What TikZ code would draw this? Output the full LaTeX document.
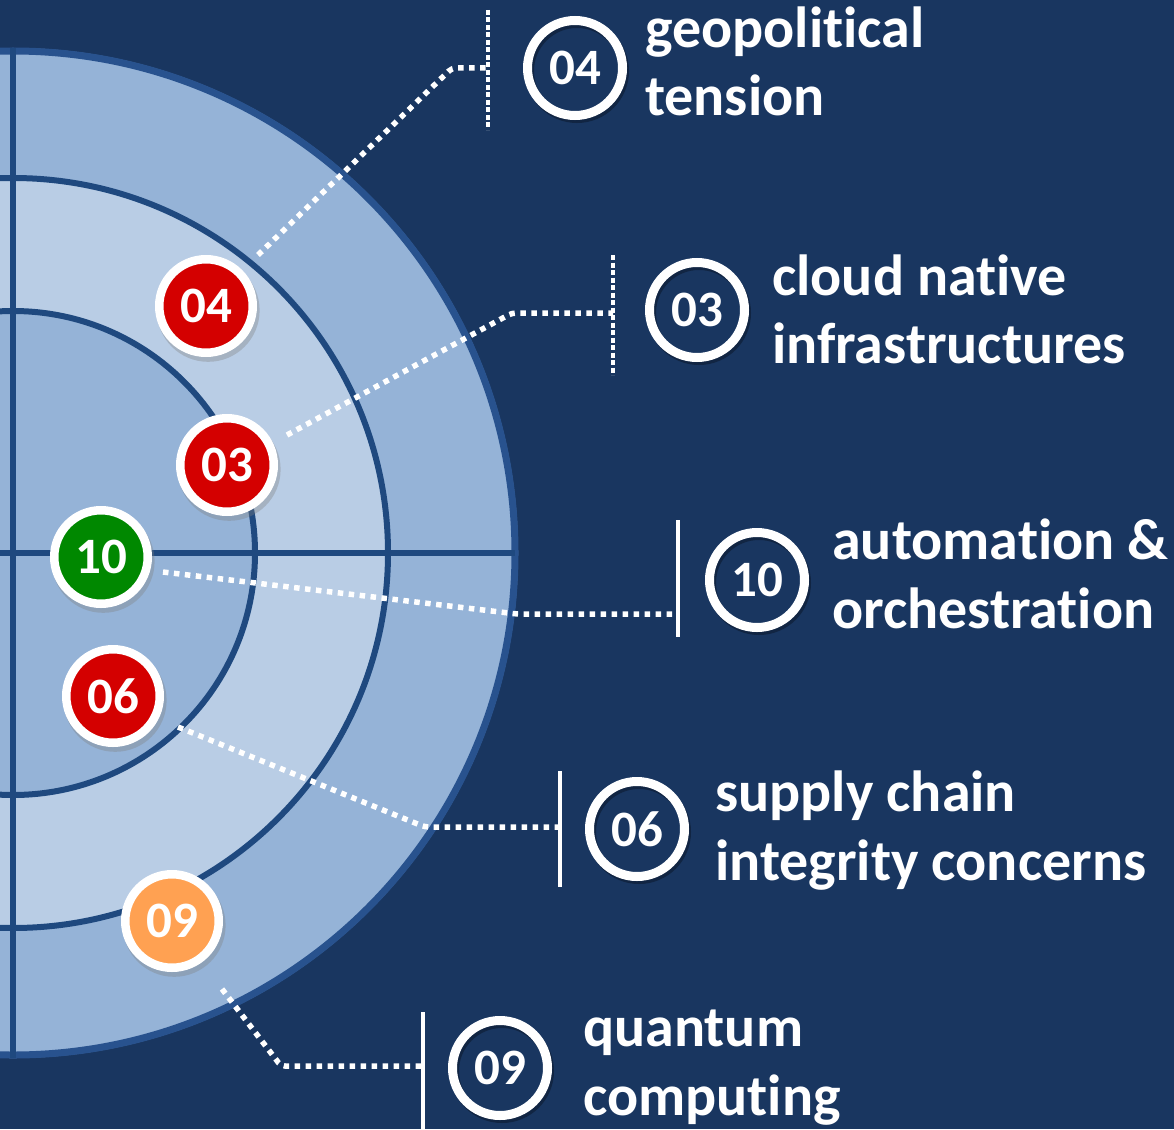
\documentclass[tikz,border=0pt]{standalone}
\usepackage{fontspec}
\setmainfont{Carlito}[Ligatures=CommonOff,RawFeature={-liga;-clig;-dlig}]
\usetikzlibrary{shadows}
\definecolor{bg}{RGB}{25,54,96}
\definecolor{ringout}{RGB}{149,179,215}
\definecolor{ringmid}{RGB}{185,205,229}
\definecolor{gridc}{RGB}{31,73,127}
\definecolor{rim}{RGB}{40,82,142}
\definecolor{mred}{RGB}{212,0,0}
\definecolor{mgreen}{RGB}{0,136,0}
\definecolor{morange}{RGB}{255,161,82}
\begin{document}
\begin{tikzpicture}[x=1pt,y=-1pt,
  gridline/.style={draw=gridc,line width=6pt},
  conn/.style={draw=white,line width=5.5pt,dash pattern=on 5.5pt off 5.5pt,rounded corners=4pt},
  dbar/.style={draw=white,line width=4.5pt,dash pattern=on 5pt off 2.5pt},
  sbar/.style={draw=white,line width=4.5pt},
  marker/.style={circle,draw=white,line width=8.5pt,minimum size=93.5pt,inner sep=0pt,text=white,
    font=\fontsize{51}{60}\selectfont\bfseries,
    drop shadow={shadow xshift=2pt,shadow yshift=-4pt,shadow scale=1.1,opacity=0.35}},
  lring/.style={circle,draw=white,line width=9pt,minimum size=95pt,inner sep=0pt,text=white,
    font=\fontsize{51}{60}\selectfont\bfseries},
  ringshadow/.style={draw=black,opacity=0.3,line width=9pt},
  lbl/.style={anchor=base west,inner sep=0pt,text=white,font=\fontsize{58}{68}\selectfont\bfseries}]

\fill[bg] (0,0) rectangle (1174,1129);
\useasboundingbox (0,0) rectangle (1174,1129);

\begin{scope}
\clip (0,0) rectangle (1174,1129);
\coordinate (O) at (13,553);
\fill[ringout] (O) circle[radius=505pt];
\draw[rim,line width=7pt] (O) circle[radius=502pt];
\filldraw[fill=ringmid,gridline] (O) circle[radius=375pt];
\filldraw[fill=ringout,gridline] (O) circle[radius=242pt];
\draw[gridline] (13,48) -- (13,1058);
\draw[gridline] (-500,553) -- (515,553);
\end{scope}

% connector coordinates
\coordinate (s04) at (258,255); \coordinate (k04) at (452,68);   \coordinate (j04) at (488,68);
\coordinate (s03) at (287,435); \coordinate (k03) at (512,313);  \coordinate (j03) at (613,313);
\coordinate (s10) at (163,572); \coordinate (k10) at (517,614);  \coordinate (j10) at (678,614);
\coordinate (s06) at (178,727); \coordinate (k06) at (425,827);  \coordinate (j06) at (560,827);
\coordinate (s09) at (222,989); \coordinate (k09) at (281,1066); \coordinate (j09) at (423,1066);

\coordinate (b04t) at (488,10);   \coordinate (b04b) at (488,130);
\coordinate (b03t) at (613,255);  \coordinate (b03b) at (613,375);
\coordinate (b10t) at (678,520);  \coordinate (b10b) at (678,637);
\coordinate (b06t) at (560,771);  \coordinate (b06b) at (560,887);
\coordinate (b09t) at (423,1012); \coordinate (b09b) at (423,1135);

\draw[conn] (s04) -- (k04) -- (j04);
\draw[conn] (s03) -- (k03) -- (j03);
\draw[conn] (s10) -- (k10) -- (j10);
\draw[conn] (s06) -- (k06) -- (j06);
\draw[conn] (s09) -- (k09) -- (j09);

\draw[dbar] (b04t) -- (b04b);
\draw[dbar] (b03t) -- (b03b);
\draw[sbar] (b10t) -- (b10b);
\draw[sbar] (b06t) -- (b06b);
\draw[sbar] (b09t) -- (b09b);

% markers on the radar
\node[marker,fill=mred]    (m04) at (206,306) {04};
\node[marker,fill=mred]    (m03) at (227,465) {03};
\node[marker,fill=mgreen]  (m10) at (101,557) {10};
\node[marker,fill=mred]    (m06) at (113,696) {06};
\node[marker,fill=morange] (m09) at (172,921) {09};

% label rings
\foreach \px/\py in {575/68,697/310,757/580,637/829,500/1068}{
  \draw[ringshadow] ([shift={(2pt,-3pt)}]\px,\py) circle[radius=47.5pt];
}
\node[lring] (r04) at (575,68)   {04};
\node[lring] (r03) at (697,310)  {03};
\node[lring] (r10) at (757,580)  {10};
\node[lring] (r06) at (637,829)  {06};
\node[lring] (r09) at (500,1068) {09};

% labels
\node[lbl] (t04a) at (645,48)   {geopolitical};
\node[lbl] (t04b) at (645,116)  {tension};
\node[lbl] (t03a) at (772,295)  {cloud native};
\node[lbl] (t03b) at (772,363)  {infrastructures};
\node[lbl] (t10a) at (832,559)  {automation \&};
\node[lbl] (t10b) at (832,628)  {orchestration};
\node[lbl] (t06a) at (715,811)  {supply chain};
\node[lbl] (t06b) at (715,880)  {integrity concerns};
\node[lbl] (t09a) at (583,1046) {quantum};
\node[lbl] (t09b) at (583,1115) {computing};
\end{tikzpicture}
\end{document}
